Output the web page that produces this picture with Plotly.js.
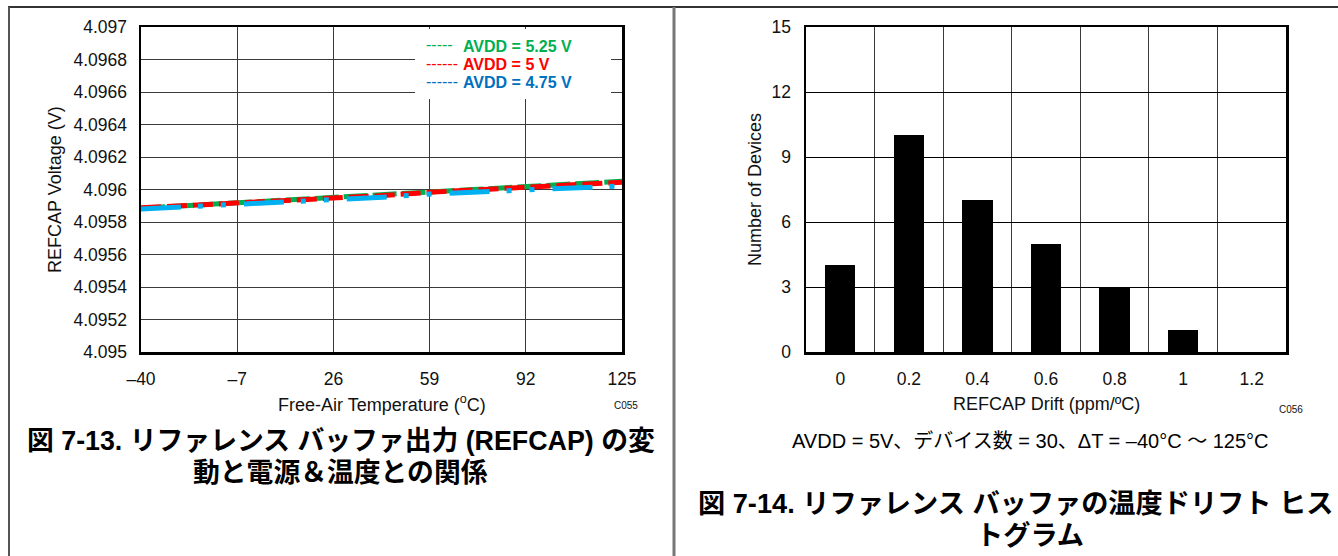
<!DOCTYPE html>
<html>
<head>
<meta charset="utf-8">
<script src="https://cdn.plot.ly/plotly-3.0.1.min.js"></script>
<style>
html,body{margin:0;padding:0;background:#fff;}
#chart{width:1338px;height:556px;}
</style>
</head>
<body>
<div id="chart"></div>
<script>
// ---- Left chart data: REFCAP voltage vs temperature ----
const temps = [-40, -23, -7, 10, 26, 43, 59, 75, 92, 108, 125];
const v525 = [4.095885, 4.095902, 4.095919, 4.095932, 4.095946, 4.095965, 4.095985, 4.096000, 4.096016, 4.096034, 4.096051];
const v500 = [4.095887, 4.095903, 4.095918, 4.095931, 4.095944, 4.095963, 4.095983, 4.095998, 4.096014, 4.096030, 4.096045];
const v475 = [4.095880, 4.095895, 4.095910, 4.095922, 4.095935, 4.095953, 4.095972, 4.095986, 4.096000, 4.096014, 4.096022];
const seriesNames = ['AVDD = 5.25 V', 'AVDD = 5 V', 'AVDD = 4.75 V'];
const tempTicks = [-40, -7, 26, 59, 92, 125];
const tempTickText = ['\u201340', '\u20137', '26', '59', '92', '125'];
const voltTicks = [4.095, 4.0952, 4.0954, 4.0956, 4.0958, 4.096, 4.0962, 4.0964, 4.0966, 4.0968, 4.097];
const voltTickText = ['4.095', '4.0952', '4.0954', '4.0956', '4.0958', '4.096', '4.0962', '4.0964', '4.0966', '4.0968', '4.097'];

// ---- Right chart data: drift histogram ----
const drift = [0, 0.2, 0.4, 0.6, 0.8, 1, 1.2];
const driftText = ['0', '0.2', '0.4', '0.6', '0.8', '1', '1.2'];
const devices = [4, 10, 7, 5, 3, 1, 0];
const countTicks = [0, 3, 6, 9, 12, 15];

const W = 1338, H = 556;
const px = x => x / W;
const py = y => 1 - y / H;

const FONT = 'Liberation Sans, Arial, Noto Sans CJK JP, sans-serif';
const CJK = 'Liberation Sans, Noto Sans CJK JP, sans-serif';
const seriesColors = ['#00b050', '#ff0000', '#00b0f0'];
const legendColors = ['#00b050', '#ff0000', '#0070c0'];
const legendDashes = ['-----', '------', '------'];

const traces = [
  {x: temps, y: v525, type: 'scatter', mode: 'lines', name: seriesNames[0], showlegend: false,
   line: {color: seriesColors[0], width: 5, dash: '24px,5px'}, xaxis: 'x', yaxis: 'y'},
  {x: temps, y: v500, type: 'scatter', mode: 'lines', name: seriesNames[1], showlegend: false,
   line: {color: seriesColors[1], width: 5, dash: '20px,6px'}, xaxis: 'x', yaxis: 'y'},
  {x: temps, y: v475, type: 'scatter', mode: 'lines', name: seriesNames[2], showlegend: false,
   line: {color: seriesColors[2], width: 5, dash: '40px,17px,5px,18px,5px,18px'}, xaxis: 'x', yaxis: 'y'},
  {x: drift, y: devices, type: 'bar', width: 0.088, marker: {color: '#000000', line: {width: 0}},
   showlegend: false, xaxis: 'x2', yaxis: 'y2'}
];

const gridL = '#3a3a3a';
const TICK = 17.5;
const CAP = 26.8;
const annotations = [
  {text: 'REFCAP Voltage (V)', xref: 'paper', yref: 'paper', x: px(55), y: py(190), textangle: -90, showarrow: false,
   font: {size: 18}, xanchor: 'center', yanchor: 'middle'},
  {text: 'Free-Air Temperature (<sup>o</sup>C)', xref: 'paper', yref: 'paper', x: px(382), y: py(403), showarrow: false,
   font: {size: 18}, xanchor: 'center', yanchor: 'middle'},
  {text: 'C055', xref: 'paper', yref: 'paper', x: px(626), y: py(405), showarrow: false,
   font: {size: 10}, xanchor: 'center', yanchor: 'middle'},
  {text: '<b>図 7-13. リファレンス バッファ出力 (REFCAP) の変</b>', xref: 'paper', yref: 'paper', x: px(341), y: py(441), showarrow: false,
   font: {family: CJK, size: CAP, color: '#000'}, xanchor: 'center', yanchor: 'middle'},
  {text: '<b>動と電源＆温度との関係</b>', xref: 'paper', yref: 'paper', x: px(341), y: py(473), showarrow: false,
   font: {family: CJK, size: CAP, color: '#000'}, xanchor: 'center', yanchor: 'middle'},

  {text: 'Number of Devices', xref: 'paper', yref: 'paper', x: px(755), y: py(190), textangle: -90, showarrow: false,
   font: {size: 18}, xanchor: 'center', yanchor: 'middle'},
  {text: 'REFCAP Drift (ppm/ºC)', xref: 'paper', yref: 'paper', x: px(1046), y: py(404), showarrow: false,
   font: {size: 18}, xanchor: 'center', yanchor: 'middle'},
  {text: 'C056', xref: 'paper', yref: 'paper', x: px(1291), y: py(409), showarrow: false,
   font: {size: 10}, xanchor: 'center', yanchor: 'middle'},
  {text: 'AVDD = 5V、デバイス数 = 30、ΔT = –40°C ～ 125°C', xref: 'paper', yref: 'paper', x: px(1030), y: py(441), showarrow: false,
   font: {family: CJK, size: 20, color: '#000'}, xanchor: 'center', yanchor: 'middle'},
  {text: '<b>図 7-14. リファレンス バッファの温度ドリフト ヒス</b>', xref: 'paper', yref: 'paper', x: px(1015), y: py(503), showarrow: false,
   font: {family: CJK, size: 27.2, color: '#000'}, xanchor: 'center', yanchor: 'middle'},
  {text: '<b>トグラム</b>', xref: 'paper', yref: 'paper', x: px(1030), y: py(535), showarrow: false,
   font: {family: CJK, size: 27.2, color: '#000'}, xanchor: 'center', yanchor: 'middle'}
];
// legend built from the series names / colours
const legendRows = [46, 64.5, 83];
seriesNames.forEach((n, i) => {
  annotations.push({text: legendDashes[i], xref: 'paper', yref: 'paper', x: px(425), y: py(legendRows[i] - 1), showarrow: false,
    font: {family: FONT, size: 16, color: legendColors[i]}, xanchor: 'left', yanchor: 'middle', borderpad: 0});
  annotations.push({text: '<b>' + n + '</b>', xref: 'paper', yref: 'paper', x: px(462), y: py(legendRows[i]), showarrow: false,
    font: {family: FONT, size: 16, color: legendColors[i]}, xanchor: 'left', yanchor: 'middle', borderpad: 0});
});

const layout = {
  width: W, height: H,
  margin: {l: 0, r: 0, t: 0, b: 0},
  paper_bgcolor: '#ffffff', plot_bgcolor: '#ffffff',
  font: {family: FONT, size: 15, color: '#111'},
  showlegend: false,
  xaxis: {domain: [px(141), px(622)], range: [-40, 125], tickmode: 'array', tickvals: tempTicks, ticktext: tempTickText,
          showgrid: true, gridcolor: gridL, gridwidth: 1, zeroline: false,
          showline: true, mirror: true, linecolor: '#000', linewidth: 2.5, ticks: '', ticklen: 0, ticklabelstandoff: 9,
          tickfont: {size: TICK}, fixedrange: true},
  yaxis: {domain: [py(352), py(27)], range: [4.095, 4.097], tickmode: 'array', tickvals: voltTicks, ticktext: voltTickText,
          showgrid: true, gridcolor: gridL, gridwidth: 1, zeroline: false,
          showline: true, mirror: true, linecolor: '#000', linewidth: 2.5, ticks: '', ticklen: 0, ticklabelstandoff: 8,
          tickfont: {size: TICK}, fixedrange: true},
  xaxis2: {domain: [px(806), px(1286)], range: [-0.1, 1.3], anchor: 'y2', tickmode: 'array', tickvals: drift, ticktext: driftText,
           showgrid: false, zeroline: false, showline: true, mirror: true, linecolor: '#000', linewidth: 2.5, ticks: '',
           ticklabelstandoff: 9,
           minor: {tickmode: 'array', tickvals: [0.1, 0.3, 0.5, 0.7, 0.9, 1.1], showgrid: true, gridcolor: gridL, gridwidth: 1, ticks: ''},
           tickfont: {size: TICK}, fixedrange: true},
  yaxis2: {domain: [py(352), py(27)], range: [0, 15], anchor: 'x2', tickmode: 'array', tickvals: countTicks,
           showgrid: true, gridcolor: '#000', gridwidth: 1, zeroline: false,
           showline: true, mirror: true, linecolor: '#000', linewidth: 2.5, ticks: '', ticklabelstandoff: 9,
           tickfont: {size: TICK}, fixedrange: true},
  bargap: 0,
  shapes: [
    {type: 'rect', xref: 'paper', yref: 'paper', x0: px(415), x1: px(611), y0: py(99), y1: py(29), layer: 'above',
     fillcolor: '#ffffff', line: {width: 0}},
    {type: 'line', xref: 'paper', yref: 'paper', x0: px(8), x1: 1, y0: py(7), y1: py(7), line: {color: '#333', width: 2}},
    {type: 'line', xref: 'paper', yref: 'paper', x0: px(9), x1: px(9), y0: py(7), y1: 0, line: {color: '#555', width: 2}},
    {type: 'line', xref: 'paper', yref: 'paper', x0: px(674), x1: px(674), y0: py(7), y1: 0, line: {color: '#777', width: 3}}
  ],
  annotations: annotations
};

Plotly.newPlot('chart', traces, layout, {displayModeBar: false, staticPlot: true});
</script>
</body>
</html>
